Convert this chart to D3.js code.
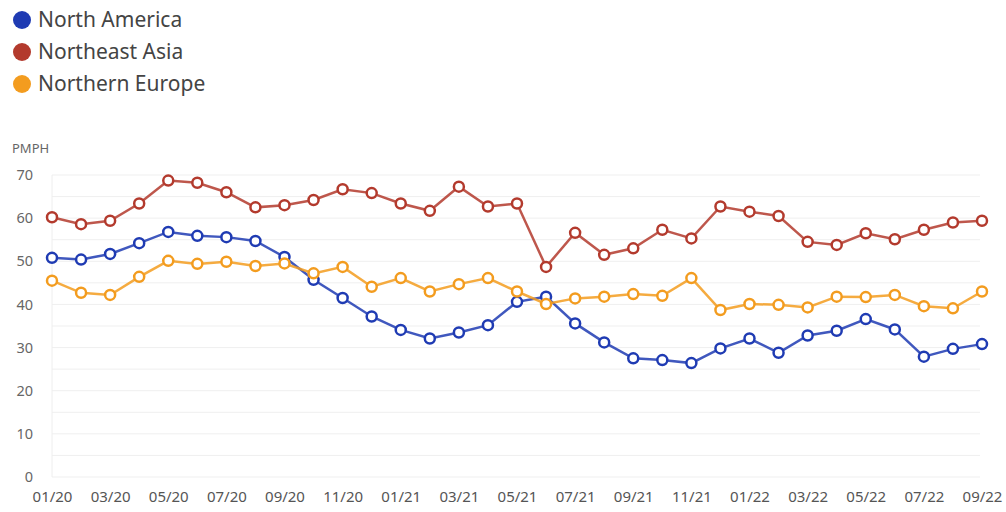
<!DOCTYPE html>
<html><head><meta charset="utf-8">
<script src="https://cdn.jsdelivr.net/npm/d3@7"></script>
<style>
body{margin:0;background:#fff;font-family:"Noto Sans",sans-serif;}
</style></head>
<body><svg id="c" width="1006" height="512"></svg>
<script>
const months = ["01/20","02/20","03/20","04/20","05/20","06/20","07/20","08/20","09/20","10/20","11/20","12/20",
"01/21","02/21","03/21","04/21","05/21","06/21","07/21","08/21","09/21","10/21","11/21","12/21",
"01/22","02/22","03/22","04/22","05/22","06/22","07/22","08/22","09/22"];
const seriesNames = ["North America","Northeast Asia","Northern Europe"];
const seriesColors = ["#1f3bb3","#b33a2d","#f39c1f"];
const northAmerica = [50.8,50.4,51.7,54.2,56.8,55.9,55.6,54.7,51.0,45.7,41.5,37.2,34.1,32.1,33.5,35.2,40.6,41.8,35.6,31.2,27.5,27.1,26.4,29.8,32.1,28.8,32.8,33.9,36.6,34.2,27.9,29.7,30.8];
const northeastAsia = [60.2,58.6,59.4,63.4,68.7,68.2,66.0,62.5,63.0,64.2,66.7,65.8,63.4,61.7,67.3,62.7,63.4,48.7,56.6,51.5,53.0,57.3,55.3,62.7,61.5,60.5,54.5,53.8,56.5,55.1,57.3,59.0,59.4];
const northernEurope = [45.5,42.7,42.2,46.4,50.1,49.4,49.9,48.9,49.5,47.2,48.7,44.1,46.1,43.0,44.7,46.1,43.0,40.1,41.4,41.8,42.4,42.0,46.1,38.7,40.1,39.9,39.3,41.8,41.7,42.2,39.6,39.1,43.0];
const yTicks = [0,10,20,30,40,50,60,70];
const gridValues = [0,5,10,15,20,25,30,35,40,45,50,55,60,65,70];
const xTickLabels = ["01/20","03/20","05/20","07/20","09/20","11/20","01/21","03/21","05/21","07/21","09/21","11/21","01/22","03/22","05/22","07/22","09/22"];
const yLabel = "PMPH";

const svg = d3.select("#c");
const mLeft = 52, mRight = 982, mTop = 175, mBottom = 477;
const x = d3.scalePoint().domain(months).range([mLeft, mRight]);
const y = d3.scaleLinear().domain([0,70]).range([mBottom, mTop]);

// grid
svg.append("g").selectAll("line").data(gridValues).join("line")
  .attr("x1", mLeft).attr("x2", 980)
  .attr("y1", d=>y(d)).attr("y2", d=>y(d))
  .attr("stroke", "#efefef").attr("stroke-width", 1);
svg.append("line").attr("x1",mLeft).attr("x2",mLeft).attr("y1",y(70)).attr("y2",mBottom)
  .attr("stroke","#eeeeee");

// y axis
const yAxis = d3.axisLeft(y).tickValues(yTicks).tickSize(0).tickPadding(0);
const gy = svg.append("g").attr("transform","translate(33,0)").call(yAxis);
gy.select(".domain").remove();
gy.selectAll("text").attr("font-family","Noto Sans").attr("font-size",14.5).attr("fill","#666");

// x axis
const xAxis = d3.axisBottom(x).tickValues(xTickLabels).tickSize(0).tickPadding(0);
const gx = svg.append("g").attr("transform","translate(0,491)").call(xAxis);
gx.select(".domain").remove();
gx.selectAll("text").attr("font-family","Noto Sans").attr("font-size",15).attr("fill","#555");

svg.append("text").attr("x",12).attr("y",153).text(yLabel)
  .attr("font-size",13).attr("fill","#666");

const data = [northAmerica, northeastAsia, northernEurope];
const line = d3.line().x((d,i)=>x(months[i])).y(d=>y(d));
data.forEach((vals,k)=>{
  svg.append("path").datum(vals).attr("d",line).attr("fill","none")
    .attr("stroke",seriesColors[k]).attr("stroke-width",2.5).attr("stroke-opacity",0.85);
});
data.forEach((vals,k)=>{
  svg.append("g").selectAll("circle").data(vals).join("circle")
    .attr("cx",(d,i)=>x(months[i])).attr("cy",d=>y(d)).attr("r",5)
    .attr("fill","#fff").attr("stroke",seriesColors[k]).attr("stroke-width",2.5);
});

// legend
const lg = svg.append("g");
seriesNames.forEach((n,k)=>{
  lg.append("circle").attr("cx",22).attr("cy",20+k*32).attr("r",9).attr("fill",seriesColors[k]);
  lg.append("text").attr("x",38).attr("y",20+k*32).attr("dy","0.35em").text(n)
    .attr("font-size",21).attr("fill","#444");
});
</script></body></html>
